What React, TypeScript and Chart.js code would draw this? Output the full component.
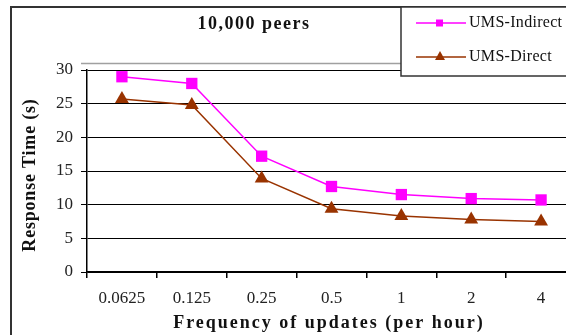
import React, { useEffect, useRef } from "react";
import { Chart, registerables } from "chart.js";

Chart.register(...registerables);

const categories = ["0.0625", "0.125", "0.25", "0.5", "1", "2", "4"];
const indirectValues = [29.0, 28.0, 17.2, 12.7, 11.5, 10.9, 10.7];
const directValues = [25.7, 24.8, 13.9, 9.4, 8.3, 7.8, 7.5];
const seriesNames = ["UMS-Indirect", "UMS-Direct"];
const chartTitle = "10,000 peers";
const xTitle = "Frequency of updates (per hour)";
const yTitle = "Response Time (s)";

const MAGENTA = "#FF00FF";
const BROWN = "#993300";
const SERIF = "'Liberation Serif', 'DejaVu Serif', serif";

const decorPlugin = {
  id: "decor",
  beforeDraw(chart: any) {
    const ctx = chart.ctx;
    const a = chart.chartArea;
    ctx.save();
    ctx.fillStyle = "#ffffff";
    ctx.fillRect(0, 0, chart.width, chart.height);
    ctx.strokeStyle = "#a0a0a0";
    ctx.lineWidth = 1.5;
    ctx.beginPath();
    ctx.moveTo(a.left - 6, a.top - 6.5);
    ctx.lineTo(chart.width, a.top - 6.5);
    ctx.stroke();
    ctx.restore();
  },
  afterDraw(chart: any) {
    const ctx = chart.ctx;
    ctx.save();
    ctx.strokeStyle = "#333333";
    ctx.lineWidth = 2;
    ctx.strokeRect(11, 7, chart.width + 20, chart.height + 20);
    ctx.fillStyle = "#111111";
    ctx.font = `bold 18px ${SERIF}`;
    (ctx as any).letterSpacing = "1.5px";
    ctx.textAlign = "center";
    ctx.textBaseline = "middle";
    ctx.fillText(chartTitle, 254, 24);
    ctx.font = `bold 18px ${SERIF}`;
    (ctx as any).letterSpacing = "2px";
    ctx.fillText(xTitle, 329, 323);
    ctx.save();
    ctx.translate(30, 175);
    ctx.rotate(-Math.PI / 2);
    ctx.font = `bold 18px ${SERIF}`;
    (ctx as any).letterSpacing = "0.8px";
    ctx.fillText(yTitle, 0, 0);
    ctx.restore();
    (ctx as any).letterSpacing = "0px";
    ctx.fillStyle = "#ffffff";
    ctx.fillRect(401, 7, chart.width, 69);
    ctx.strokeStyle = "#333333";
    ctx.lineWidth = 1.5;
    ctx.strokeRect(401, 7, chart.width, 69);
    const items = [
      { name: seriesNames[0], color: MAGENTA, y: 23, shape: "rect" },
      { name: seriesNames[1], color: BROWN, y: 57, shape: "tri" },
    ];
    items.forEach((it) => {
      ctx.strokeStyle = it.color;
      ctx.lineWidth = 1.5;
      ctx.beginPath();
      ctx.moveTo(416, it.y);
      ctx.lineTo(466, it.y);
      ctx.stroke();
      ctx.fillStyle = it.color;
      if (it.shape === "rect") {
        ctx.fillRect(436, it.y - 3.5, 7, 7);
      } else {
        ctx.beginPath();
        ctx.moveTo(440, it.y - 6);
        ctx.lineTo(445, it.y + 3);
        ctx.lineTo(435, it.y + 3);
        ctx.closePath();
        ctx.fill();
      }
      ctx.fillStyle = "#111111";
      ctx.font = `16px ${SERIF}`;
      (ctx as any).letterSpacing = "0.3px";
      ctx.textAlign = "left";
      ctx.textBaseline = "middle";
      ctx.fillText(it.name, 469, it.y);
    });
    ctx.restore();
  },
};

export default function App() {
  const ref = useRef<HTMLCanvasElement | null>(null);
  useEffect(() => {
    if (!ref.current) return;
    const chart = new Chart(ref.current, {
      type: "line",
      data: {
        labels: categories,
        datasets: [
          {
            label: seriesNames[0],
            data: indirectValues,
            borderColor: MAGENTA,
            backgroundColor: MAGENTA,
            borderWidth: 1.5,
            pointStyle: "rect",
            pointRadius: 8,
            pointBorderWidth: 0,
            tension: 0,
          },
          {
            label: seriesNames[1],
            data: directValues,
            borderColor: BROWN,
            backgroundColor: BROWN,
            borderWidth: 1.5,
            pointStyle: "triangle",
            pointRadius: 8,
            pointBorderWidth: 0,
            tension: 0,
          },
        ],
      },
      options: {
        animation: false,
        responsive: false,
        layout: { padding: { top: 70, right: 24, left: 0, bottom: 0 } },
        plugins: { legend: { display: false }, title: { display: false }, tooltip: { enabled: false } },
        scales: {
          x: {
            type: "category",
            offset: true,
            grid: { offset: true, drawOnChartArea: false, drawTicks: true, tickLength: 6, color: "#000", lineWidth: 1.5 },
            border: { color: "#000", width: 1.5 },
            ticks: { color: "#222", font: { family: SERIF, size: 17 }, padding: 10, maxRotation: 0 },
            afterFit: (s: any) => { s.height = 63; },
          },
          y: {
            min: 0,
            max: 30,
            ticks: { stepSize: 5, color: "#222", font: { family: SERIF, size: 17 }, padding: 8 },
            grid: { color: "#000", lineWidth: 1, tickLength: 6 },
            border: { color: "#000", width: 1.5 },
            afterFit: (s: any) => { s.width = 87; },
          },
        },
      },
      plugins: [decorPlugin],
    });
    return () => chart.destroy();
  }, []);
  return (
    <div style={{ position: "fixed", left: 0, top: 0, width: 566, height: 335, overflow: "hidden", background: "#fff" }}>
      <canvas ref={ref} width={600} height={335} style={{ width: 600, height: 335, display: "block" }} />
    </div>
  );
}
